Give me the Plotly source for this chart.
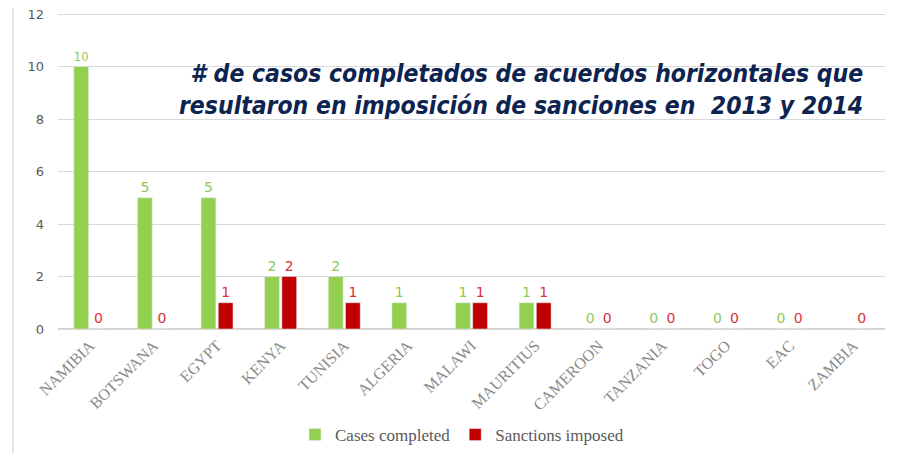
import plotly.graph_objects as go

categories = ["NAMIBIA", "BOTSWANA", "EGYPT", "KENYA", "TUNISIA", "ALGERIA", "MALAWI",
              "MAURITIUS", "CAMEROON", "TANZANIA", "TOGO", "EAC", "ZAMBIA"]
cases_completed = [10, 5, 5, 2, 2, 1, 1, 1, 0, 0, 0, 0, None]
sanctions_imposed = [0, 0, 1, 2, 1, None, 1, 1, 0, 0, 0, 0, 0]
y_ticks = [0, 2, 4, 6, 8, 10, 12]
title_text = "# de casos completados de acuerdos horizontales que<br>resultaron en imposición de sanciones en  2013 y 2014"

def labels(vals):
    return ["" if v is None else str(v) for v in vals]

# page has an 8px body margin; figure placed at (8, 8)
W, H = 896, 445
L, R, T, B = 50, 19, 5, 124
PW, PH = W - L - R, H - T - B

fig = go.Figure()
fig.add_trace(go.Bar(
    x=categories, y=cases_completed, name="Cases completed",
    marker=dict(color="#92D050"),
    text=labels(cases_completed), textposition="outside",
    textfont=dict(family="DejaVu Sans", size=14, color="#8CC95A"),
    cliponaxis=False,
))
fig.add_trace(go.Bar(
    x=categories, y=sanctions_imposed, name="Sanctions imposed",
    marker=dict(color="#C00000"),
    text=labels(sanctions_imposed), textposition="outside",
    textfont=dict(family="DejaVu Sans", size=14, color="#E0303A"),
    cliponaxis=False,
))

fig.update_layout(
    width=W, height=H,
    margin=dict(l=L, r=R, t=T, b=B, autoexpand=False),
    paper_bgcolor="white", plot_bgcolor="white",
    barmode="group", bargap=0.46, bargroupgap=0.14,
    showlegend=True,
    legend=dict(orientation="h", x=(462 - 8 - L) / PW, xanchor="center", y=-(435 - 8 - (H - B)) / PH,
                yanchor="middle",
                font=dict(family="Liberation Serif", size=17, color="#595959"),
                itemwidth=30, tracegroupgap=0),
    xaxis=dict(tickangle=-45, tickfont=dict(family="Liberation Serif", size=16, color="#8a8a8a"),
               showgrid=False, showline=True, linecolor="#d9d9d9", ticks="", automargin=False),
    yaxis=dict(range=[0, 12.04], tickvals=y_ticks, showgrid=True, gridcolor="#d9d9d9",
               zeroline=True, zerolinecolor="#d0d0d0", showline=False, automargin=False,
               tickfont=dict(family="DejaVu Sans", size=13, color="#595959"),
               ticklabelstandoff=13, ticklabeloverflow="allow"),
    shapes=[dict(type="line", xref="paper", yref="paper", x0=(13 - 8 - L) / PW, x1=(13 - 8 - L) / PW,
                 y0=-1, y1=1.2, line=dict(color="#d9d9d9", width=1.5))],
    annotations=[dict(text=title_text, xref="paper", yref="paper", x=(865 - 8 - L) / PW,
                      y=(H - B - (90 - 8)) / PH,
                      xanchor="right", yanchor="middle", align="right", showarrow=False,
                      font=dict(family="DejaVu Sans Condensed", size=24.5, color="#0D2350",
                                weight="bold", style="italic"))],
)

fig.write_html("out.html")
